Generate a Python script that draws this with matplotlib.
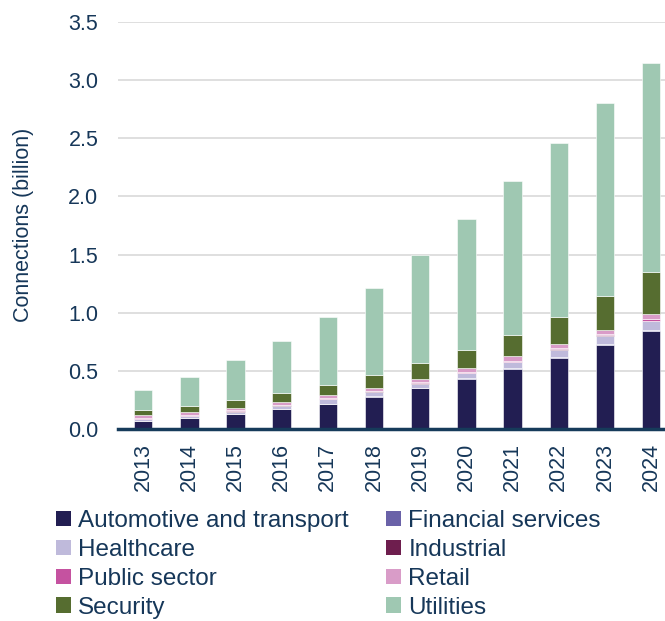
import matplotlib
matplotlib.use("Agg")
import matplotlib.pyplot as plt
import numpy as np
from matplotlib.patches import Patch

plt.rcParams['font.family'] = ['Liberation Sans', 'DejaVu Sans']

years = ['2013', '2014', '2015', '2016', '2017', '2018', '2019', '2020', '2021', '2022', '2023', '2024']
automotive = [0.070, 0.095, 0.130, 0.170, 0.215, 0.280, 0.350, 0.430, 0.515, 0.610, 0.720, 0.840]
financial = [0.003, 0.003, 0.004, 0.004, 0.005, 0.005, 0.006, 0.006, 0.007, 0.008, 0.008, 0.009]
healthcare = [0.012, 0.012, 0.016, 0.026, 0.035, 0.035, 0.034, 0.044, 0.052, 0.062, 0.072, 0.078]
industrial = [0.003, 0.003, 0.003, 0.003, 0.004, 0.004, 0.004, 0.005, 0.005, 0.005, 0.006, 0.006]
public_sector = [0.007, 0.007, 0.007, 0.007, 0.007, 0.007, 0.008, 0.008, 0.009, 0.010, 0.010, 0.011]
retail = [0.025, 0.030, 0.025, 0.026, 0.029, 0.024, 0.033, 0.032, 0.037, 0.039, 0.040, 0.043]
security = [0.040, 0.050, 0.065, 0.074, 0.088, 0.110, 0.135, 0.152, 0.185, 0.233, 0.289, 0.360]
utilities = [0.180, 0.250, 0.340, 0.450, 0.577, 0.745, 0.930, 1.133, 1.320, 1.493, 1.655, 1.800]

series_names = ['Automotive and transport', 'Financial services', 'Healthcare', 'Industrial',
                'Public sector', 'Retail', 'Security', 'Utilities']
series = [automotive, financial, healthcare, industrial, public_sector, retail, security, utilities]
colors = ['#221e52', '#6a62a8', '#bfbadb', '#6e1e4e', '#c552a0', '#d99cc8', '#566d30', '#9fc8b2']

text_color = '#163759'

fig = plt.figure(figsize=(6.65, 6.21), dpi=100)
ax = fig.add_axes([0.177, 0.309, 0.823, 0.6556])

x = np.arange(len(years))
bottom = np.zeros(len(years))
for vals, c in zip(series, colors):
    v = np.array(vals)
    ax.bar(x, v, bottom=bottom, width=0.4, color=c, edgecolor='white', linewidth=0.4, zorder=3)
    bottom += v

ax.set_ylim(0, 3.5)
ax.set_xlim(-0.55, 11.3)
ax.set_yticks(np.arange(0, 3.51, 0.5))
ax.set_yticklabels([f'{t:.1f}' for t in np.arange(0, 3.51, 0.5)])
ax.set_xticks(x)
ax.set_xticklabels(years, rotation=90)
ax.tick_params(axis='both', length=0, labelsize=15.5, colors=text_color)
ax.tick_params(axis='y', pad=14)
ax.tick_params(axis='x', pad=10)
ax.yaxis.grid(True, color='#d9d9d9', linewidth=1.2, zorder=0)
ax.set_axisbelow(True)
for s in ['left', 'right', 'top']:
    ax.spines[s].set_visible(False)
ax.spines['bottom'].set_color('#163b5a')
ax.spines['bottom'].set_linewidth(2.5)
ax.spines['bottom'].set_zorder(4)

fig.text(0.035, (621 - 225) / 621, 'Connections (billion)', rotation=90, ha='center', va='center',
         fontsize=15.5, color=text_color)

# legend laid out row-wise: reorder for matplotlib's column-wise fill
order = [0, 2, 4, 6, 1, 3, 5, 7]
handles = [Patch(facecolor=colors[i], edgecolor='none') for i in order]
labels = [series_names[i] for i in order]
leg = fig.legend(handles, labels, ncol=2, loc='upper left',
                 bbox_to_anchor=(0.07, 0.194), frameon=False, fontsize=17.5,
                 handlelength=0.6, handleheight=0.6, handletextpad=0.3,
                 columnspacing=1.55, labelspacing=0.28, borderaxespad=0)
for t in leg.get_texts():
    t.set_color(text_color)

fig.savefig('out.png', dpi=100)
